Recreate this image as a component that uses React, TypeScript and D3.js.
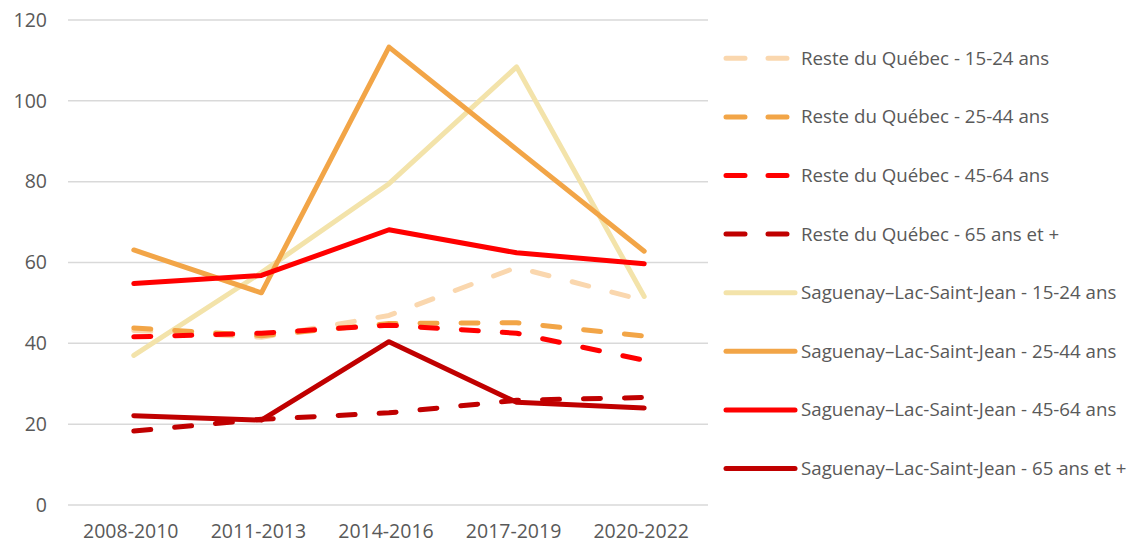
import React from "react";
import * as d3 from "d3";

const categories = ["2008-2010", "2011-2013", "2014-2016", "2017-2019", "2020-2022"];
const yTicks = [0, 20, 40, 60, 80, 100, 120];

const resteQc1524 = [43.2, 41.5, 46.9, 58.8, 50.6];
const resteQc2544 = [43.8, 41.9, 44.9, 45.1, 41.8];
const resteQc4564 = [41.6, 42.5, 44.5, 42.5, 35.8];
const resteQc65 = [18.3, 21.2, 22.8, 25.9, 26.6];
const sag1524 = [37.0, 57.5, 79.5, 108.4, 51.6];
const sag2544 = [63.1, 52.5, 113.3, 88.0, 62.8];
const sag4564 = [54.8, 56.8, 68.1, 62.4, 59.7];
const sag65 = [22.1, 21.0, 40.4, 25.4, 24.0];

const seriesNames = [
  "Reste du Québec - 15-24 ans",
  "Reste du Québec - 25-44 ans",
  "Reste du Québec - 45-64 ans",
  "Reste du Québec - 65 ans et +",
  "Saguenay–Lac-Saint-Jean - 15-24 ans",
  "Saguenay–Lac-Saint-Jean - 25-44 ans",
  "Saguenay–Lac-Saint-Jean - 45-64 ans",
  "Saguenay–Lac-Saint-Jean - 65 ans et +",
];
const seriesValues = [resteQc1524, resteQc2544, resteQc4564, resteQc65, sag1524, sag2544, sag4564, sag65];
const seriesColors = ["#FAD7AE", "#F2A547", "#FF0000", "#C00000", "#F3E3AA", "#F2A547", "#FF0000", "#C00000"];
const seriesDashed = [true, true, true, true, false, false, false, false];

export default function App() {
  const W = 1130, H = 545;
  const x = d3.scaleBand<string>().domain(categories).range([70, 708]);
  const y = d3.scaleLinear().domain([0, 120]).range([505, 20]);
  const cx = (c: string) => (x(c) as number) + x.bandwidth() / 2;
  const line = d3
    .line<number>()
    .x((_, i) => cx(categories[i]))
    .y((d) => y(d));
  const font = "'Open Sans', 'Liberation Sans', sans-serif";
  const drawOrder = [4, 5, 6, 7, 0, 1, 2, 3];
  return (
    <svg width={W} height={H} style={{ position: "absolute", left: 0, top: 0, background: "#fff" }}>
      {yTicks.map((t) => (
        <g key={t}>
          <line x1={68} x2={708} y1={y(t)} y2={y(t)} stroke="#D9D9D9" strokeWidth={1.5} />
          <text x={47} y={y(t)} dy="0.35em" textAnchor="end" fontSize={19.5} fill="#595959" fontFamily={font}>
            {t}
          </text>
        </g>
      ))}
      {categories.map((c) => (
        <text key={c} x={cx(c) - 3} y={538} textAnchor="middle" fontSize={19.5} fill="#595959" fontFamily={font}>
          {c}
        </text>
      ))}
      {drawOrder.map((i) => (
        <path
          key={i}
          d={line(seriesValues[i]) || ""}
          fill="none"
          stroke={seriesColors[i]}
          strokeWidth={5}
          strokeLinecap="round"
          strokeLinejoin="round"
          strokeDasharray={seriesDashed[i] ? "17,24" : undefined}
        />
      ))}
      {seriesNames.map((n, i) => {
        const ly = 58.3 + i * 58.6;
        return (
          <g key={n}>
            <line
              x1={726}
              x2={795}
              y1={ly}
              y2={ly}
              stroke={seriesColors[i]}
              strokeWidth={5}
              strokeLinecap="round"
              strokeDasharray={seriesDashed[i] ? "19,23" : undefined}
            />
            <text x={801} y={ly} dy="0.35em" fontSize={18.7} fill="#595959" fontFamily={font}>
              {n}
            </text>
          </g>
        );
      })}
    </svg>
  );
}
